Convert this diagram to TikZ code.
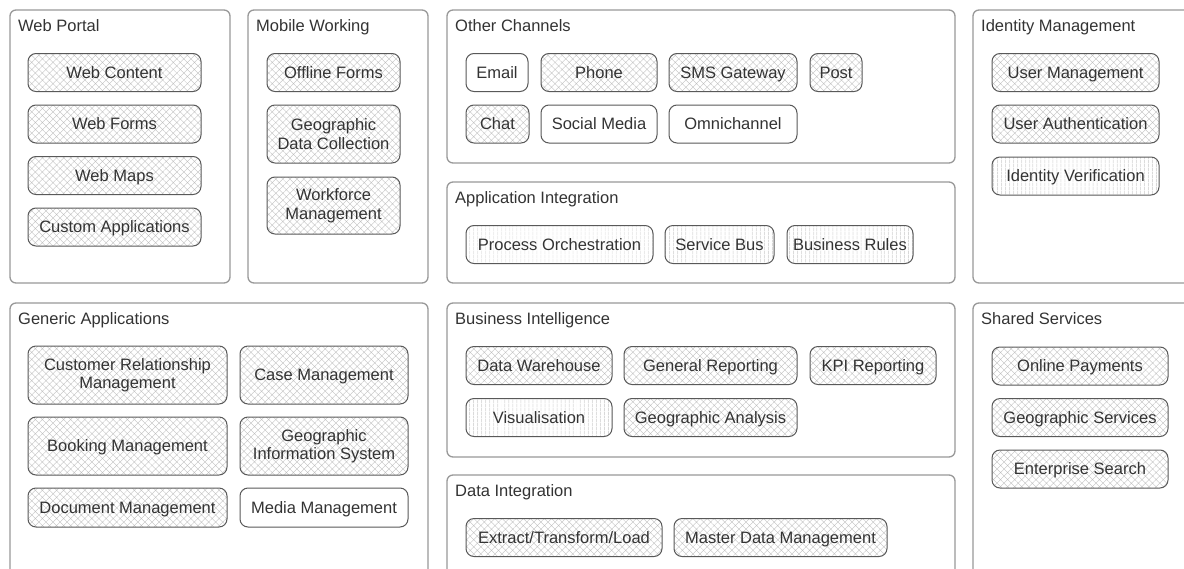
\documentclass[tikz,border=0pt]{standalone}
\usepackage{fontspec}
\setmainfont{Liberation Sans}
\usetikzlibrary{patterns.meta}
\tikzset{
  group/.style={draw=black!40, line width=1.3pt, rounded corners=6pt},
  grouptitle/.style={anchor=base west, inner sep=0pt, text=black!80},
  capability/.style={draw=black!65, line width=1pt, rounded corners=8pt, align=center, inner sep=0pt, text=black!80, minimum height=38pt, text height=14pt, text depth=3pt},
  twolines/.style={text height=, text depth=},
  hatched/.style={capability, pattern={Hatch[distance=5pt, angle=45, line width=0.35pt]}, pattern color=black!25},
  striped/.style={capability, pattern={Lines[distance=4pt, angle=90, line width=0.35pt]}, pattern color=black!25},
  plain/.style={capability, fill=white},
}
\begin{document}
\begin{tikzpicture}[x=1pt,y=-1pt,font=\fontsize{16.5}{18.5}\selectfont]
\useasboundingbox (0,0) rectangle (1184,568);
\clip (0,0) rectangle (1184,568);
\fill[white] (0,0) rectangle (1184,568);
\draw[group] (10,10) rectangle (230,283);
\draw[group] (248,10) rectangle (428,283);
\draw[group] (447,10) rectangle (955,163);
\draw[group] (447,182) rectangle (955,283);
\draw[group] (973,10) rectangle (1210,283);
\draw[group] (10,303) rectangle (428,610);
\draw[group] (447,303) rectangle (955,457);
\draw[group] (447,475) rectangle (955,610);
\draw[group] (973,303) rectangle (1210,610);
\node[grouptitle] (webportal) at (18,31) {Web Portal};
\node[grouptitle] (mobile) at (256,31) {Mobile Working};
\node[grouptitle] (channels) at (455,31) {Other Channels};
\node[grouptitle] (appint) at (455,203) {Application Integration};
\node[grouptitle] (identity) at (981,31) {Identity Management};
\node[grouptitle] (generic) at (18,324) {Generic Applications};
\node[grouptitle] (bi) at (455,324) {Business Intelligence};
\node[grouptitle] (dataint) at (455,496) {Data Integration};
\node[grouptitle] (shared) at (981,324) {Shared Services};
% web portal
\node[hatched, minimum width=173pt] (webcontent) at (114.5,72.5) {Web Content};
\node[hatched, minimum width=173pt] (webforms) at (114.5,124) {Web Forms};
\node[hatched, minimum width=173pt] (webmaps) at (114.5,175.5) {Web Maps};
\node[hatched, minimum width=173pt] (customapps) at (114.5,227) {Custom Applications};
% mobile working
\node[hatched, minimum width=133pt] (offline) at (333.5,72.5) {Offline Forms};
\node[hatched, twolines, minimum width=133pt, minimum height=58pt] (geocollect) at (333.5,134) {Geographic\\Data Collection};
\node[hatched, twolines, minimum width=133pt, minimum height=57pt] (workforce) at (333.5,205.5) {Workforce\\Management};
% other channels
\node[plain, minimum width=62pt] (email) at (497,72.5) {Email};
\node[hatched, minimum width=116pt] (phone) at (599,72.5) {Phone};
\node[hatched, minimum width=128pt] (sms) at (733,72.5) {SMS Gateway};
\node[hatched, minimum width=52pt] (post) at (836,72.5) {Post};
\node[hatched, minimum width=63pt] (chat) at (497.5,124) {Chat};
\node[plain, minimum width=116pt] (social) at (599,124) {Social Media};
\node[plain, minimum width=128pt] (omni) at (733,124) {Omnichannel};
% application integration
\node[striped, minimum width=187pt] (orchestration) at (559.5,244.5) {Process Orchestration};
\node[striped, minimum width=109pt] (servicebus) at (719.5,244.5) {Service Bus};
\node[striped, minimum width=126pt] (rules) at (850,244.5) {Business Rules};
% identity management
\node[hatched, minimum width=167pt] (usermgmt) at (1075.5,72.5) {User Management};
\node[hatched, minimum width=167pt] (userauth) at (1075.5,124) {User Authentication};
\node[striped, minimum width=167pt] (idverify) at (1075.5,176) {Identity Verification};
% generic applications
\node[hatched, twolines, minimum width=199pt, minimum height=58pt] (crm) at (127.5,375) {Customer Relationship\\Management};
\node[hatched, minimum width=168pt, minimum height=58pt] (casemgmt) at (324,375) {Case Management};
\node[hatched, minimum width=199pt, minimum height=58pt] (booking) at (127.5,446) {Booking Management};
\node[hatched, twolines, minimum width=168pt, minimum height=58pt] (gis) at (324,446) {Geographic\\Information System};
\node[hatched, minimum width=199pt, minimum height=39pt] (docmgmt) at (127.5,507.5) {Document Management};
\node[plain, minimum width=168pt, minimum height=39pt] (media) at (324,507.5) {Media Management};
% business intelligence
\node[hatched, minimum width=146pt] (warehouse) at (539,365.5) {Data Warehouse};
\node[hatched, minimum width=173pt] (reporting) at (710.5,365.5) {General Reporting};
\node[hatched, minimum width=126pt] (kpi) at (873,365.5) {KPI Reporting};
\node[striped, minimum width=146pt] (visual) at (539,417.5) {Visualisation};
\node[hatched, minimum width=173pt] (geoanalysis) at (710.5,417.5) {Geographic Analysis};
% data integration
\node[hatched, minimum width=196pt] (etl) at (564,537.5) {Extract/Transform/Load};
\node[hatched, minimum width=213pt] (mdm) at (780.5,537.5) {Master Data Management};
% shared services
\node[hatched, minimum width=176pt] (payments) at (1080,366) {Online Payments};
\node[hatched, minimum width=176pt] (geoservices) at (1080,417.5) {Geographic Services};
\node[hatched, minimum width=176pt] (search) at (1080,469) {Enterprise Search};
\end{tikzpicture}
\end{document}
